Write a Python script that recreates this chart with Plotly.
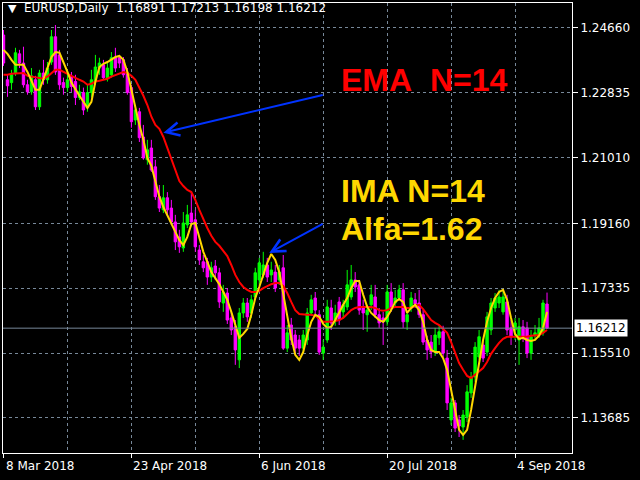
import plotly.graph_objects as go

# daily EURUSD bars, 8 Mar 2018 .. 14 Sep 2018 (bar index = trading day)
opens = [1.2446, 1.2320, 1.2312, 1.2339, 1.2393, 1.2367, 1.2306, 1.2286, 1.2320, 1.2244,
         1.2339, 1.2320, 1.2370, 1.2441, 1.2390, 1.2312, 1.2298, 1.2329, 1.2315, 1.2270,
         1.2284, 1.2241, 1.2284, 1.2315, 1.2353, 1.2362, 1.2326, 1.2334, 1.2382, 1.2382,
         1.2376, 1.2339, 1.2298, 1.2207, 1.2230, 1.2159, 1.2095, 1.2128, 1.2075, 1.1991,
         1.1954, 1.1988, 1.1959, 1.1920, 1.1878, 1.1847, 1.1912, 1.1945, 1.1926, 1.1841,
         1.1808, 1.1808, 1.1765, 1.1796, 1.1777, 1.1692, 1.1720, 1.1650, 1.1625, 1.1532,
         1.1664, 1.1692, 1.1664, 1.1709, 1.1757, 1.1771, 1.1799, 1.1771, 1.1779, 1.1757,
         1.1791, 1.1565, 1.1630, 1.1602, 1.1588, 1.1565, 1.1588, 1.1664, 1.1706, 1.1659,
         1.1551, 1.1588, 1.1678, 1.1644, 1.1695, 1.1667, 1.1681, 1.1709, 1.1757, 1.1743,
         1.1678, 1.1659, 1.1687, 1.1709, 1.1659, 1.1650, 1.1639, 1.1723, 1.1692, 1.1706,
         1.1729, 1.1639, 1.1678, 1.1701, 1.1692, 1.1659, 1.1588, 1.1582, 1.1554, 1.1594,
         1.1611, 1.1537, 1.1363, 1.1411, 1.1363, 1.1343, 1.1372, 1.1439, 1.1484, 1.1540,
         1.1574, 1.1554, 1.1616, 1.1678, 1.1692, 1.1667, 1.1695, 1.1622, 1.1616, 1.1588,
         1.1625, 1.1622, 1.1551, 1.1600, 1.1602, 1.1608, 1.16891]
highs = [1.2460, 1.2334, 1.2348, 1.2410, 1.2404, 1.2413, 1.2320, 1.2353, 1.2331, 1.2348,
         1.2376, 1.2370, 1.2460, 1.2474, 1.2404, 1.2326, 1.2348, 1.2342, 1.2334, 1.2306,
         1.2298, 1.2306, 1.2348, 1.2390, 1.2382, 1.2376, 1.2370, 1.2398, 1.2410, 1.2390,
         1.2384, 1.2353, 1.2306, 1.2249, 1.2241, 1.2193, 1.2151, 1.2151, 1.2095, 1.2024,
         1.2024, 1.2004, 1.1982, 1.1940, 1.1898, 1.1948, 1.1968, 1.2004, 1.1954, 1.1855,
         1.1827, 1.1819, 1.1808, 1.1813, 1.1791, 1.1743, 1.1734, 1.1667, 1.1644, 1.1678,
         1.1706, 1.1706, 1.1715, 1.1791, 1.1819, 1.1836, 1.1819, 1.1808, 1.1799, 1.1799,
         1.1827, 1.1630, 1.1650, 1.1616, 1.1602, 1.1616, 1.1678, 1.1715, 1.1723, 1.1672,
         1.1588, 1.1701, 1.1701, 1.1687, 1.1709, 1.1701, 1.1785, 1.1799, 1.1779, 1.1757,
         1.1701, 1.1687, 1.1743, 1.1743, 1.1678, 1.1667, 1.1743, 1.1748, 1.1729, 1.1743,
         1.1748, 1.1667, 1.1723, 1.1720, 1.1729, 1.1672, 1.1600, 1.1602, 1.1622, 1.1630,
         1.1628, 1.1560, 1.1425, 1.1419, 1.1377, 1.1391, 1.1461, 1.1498, 1.1582, 1.1616,
         1.1588, 1.1667, 1.1706, 1.1720, 1.1729, 1.1729, 1.1715, 1.1644, 1.1650, 1.1650,
         1.1644, 1.1639, 1.1616, 1.1630, 1.1650, 1.1701, 1.17213]
lows = [1.2359, 1.2272, 1.2292, 1.2331, 1.2353, 1.2298, 1.2278, 1.2278, 1.2235, 1.2235,
        1.2306, 1.2309, 1.2362, 1.2334, 1.2292, 1.2278, 1.2286, 1.2286, 1.2249, 1.2263,
        1.2221, 1.2230, 1.2270, 1.2306, 1.2334, 1.2320, 1.2315, 1.2326, 1.2342, 1.2353,
        1.2326, 1.2278, 1.2185, 1.2193, 1.2145, 1.2095, 1.2081, 1.2061, 1.1982, 1.1948,
        1.1945, 1.1937, 1.1912, 1.1841, 1.1833, 1.1836, 1.1903, 1.1909, 1.1836, 1.1799,
        1.1779, 1.1743, 1.1751, 1.1757, 1.1678, 1.1667, 1.1633, 1.1602, 1.1518, 1.1509,
        1.1650, 1.1639, 1.1650, 1.1701, 1.1743, 1.1762, 1.1751, 1.1751, 1.1723, 1.1743,
        1.1560, 1.1554, 1.1574, 1.1546, 1.1543, 1.1554, 1.1574, 1.1656, 1.1659, 1.1546,
        1.1532, 1.1580, 1.1616, 1.1628, 1.1630, 1.1650, 1.1672, 1.1701, 1.1723, 1.1659,
        1.1616, 1.1611, 1.1672, 1.1650, 1.1622, 1.1574, 1.1628, 1.1667, 1.1678, 1.1701,
        1.1622, 1.1616, 1.1667, 1.1678, 1.1650, 1.1574, 1.1532, 1.1537, 1.1543, 1.1574,
        1.1540, 1.1391, 1.1349, 1.1329, 1.1315, 1.1307, 1.1357, 1.1425, 1.1470, 1.1532,
        1.1526, 1.1543, 1.1602, 1.1667, 1.1678, 1.1659, 1.1602, 1.1574, 1.1588, 1.1518,
        1.1582, 1.1537, 1.1532, 1.1588, 1.1594, 1.1600, 1.16198]
closes = [1.2367, 1.2303, 1.2334, 1.2396, 1.2367, 1.2306, 1.2286, 1.2331, 1.2244, 1.2339,
          1.2320, 1.2353, 1.2441, 1.2342, 1.2306, 1.2298, 1.2320, 1.2301, 1.2270, 1.2286,
          1.2235, 1.2284, 1.2320, 1.2356, 1.2367, 1.2326, 1.2353, 1.2382, 1.2353, 1.2367,
          1.2334, 1.2284, 1.2202, 1.2235, 1.2157, 1.2100, 1.2123, 1.2066, 1.1991, 1.1959,
          1.1988, 1.1954, 1.1920, 1.1864, 1.1850, 1.1917, 1.1940, 1.1920, 1.1850, 1.1813,
          1.1791, 1.1765, 1.1791, 1.1777, 1.1695, 1.1723, 1.1644, 1.1616, 1.1560, 1.1664,
          1.1692, 1.1653, 1.1701, 1.1777, 1.1805, 1.1799, 1.1765, 1.1785, 1.1734, 1.1779,
          1.1565, 1.1608, 1.1588, 1.1565, 1.1565, 1.1602, 1.1664, 1.1701, 1.1672, 1.1554,
          1.1568, 1.1681, 1.1636, 1.1664, 1.1644, 1.1687, 1.1743, 1.1757, 1.1737, 1.1672,
          1.1664, 1.1672, 1.1715, 1.1659, 1.1636, 1.1639, 1.1723, 1.1678, 1.1706, 1.1729,
          1.1639, 1.1659, 1.1706, 1.1689, 1.1659, 1.1582, 1.1560, 1.1554, 1.1602, 1.1611,
          1.1551, 1.1411, 1.1411, 1.1340, 1.1346, 1.1377, 1.1442, 1.1484, 1.1568, 1.1597,
          1.1537, 1.1653, 1.1692, 1.1706, 1.1709, 1.1709, 1.1616, 1.1597, 1.1636, 1.1625,
          1.1597, 1.1551, 1.1597, 1.1608, 1.1622, 1.1692, 1.16212]

ima = [1.2404, 1.2393, 1.2376, 1.2362, 1.2362, 1.2362, 1.2342, 1.2315, 1.2292, 1.2292,
       1.2320, 1.2353, 1.2384, 1.2398, 1.2396, 1.2370, 1.2342, 1.2312, 1.2292, 1.2275,
       1.2258, 1.2241, 1.2258, 1.2315, 1.2356, 1.2365, 1.2370, 1.2376, 1.2384, 1.2387,
       1.2376, 1.2342, 1.2292, 1.2235, 1.2193, 1.2151, 1.2100, 1.2078, 1.2038, 1.1991,
       1.1962, 1.1937, 1.1914, 1.1892, 1.1869, 1.1855, 1.1878, 1.1914, 1.1917, 1.1875,
       1.1836, 1.1808, 1.1779, 1.1762, 1.1745, 1.1723, 1.1701, 1.1667, 1.1630, 1.1594,
       1.1605, 1.1619, 1.1659, 1.1706, 1.1737, 1.1771, 1.1805, 1.1830, 1.1813, 1.1779,
       1.1720, 1.1650, 1.1594, 1.1546, 1.1532, 1.1554, 1.1602, 1.1639, 1.1659, 1.1653,
       1.1633, 1.1622, 1.1625, 1.1644, 1.1667, 1.1687, 1.1706, 1.1734, 1.1754, 1.1754,
       1.1715, 1.1681, 1.1664, 1.1653, 1.1644, 1.1639, 1.1653, 1.1672, 1.1695, 1.1703,
       1.1695, 1.1664, 1.1678, 1.1687, 1.1672, 1.1639, 1.1588, 1.1560, 1.1554, 1.1554,
       1.1537, 1.1504, 1.1447, 1.1386, 1.1335, 1.1321, 1.1335, 1.1391, 1.1461, 1.1526,
       1.1588, 1.1639, 1.1678, 1.1706, 1.1723, 1.1729, 1.1701, 1.1650, 1.1605, 1.1591,
       1.1594, 1.1588, 1.1585, 1.1588, 1.1600, 1.1622, 1.1667]

ema = [1.2334, 1.2334, 1.2337, 1.2337, 1.2339, 1.2339, 1.2331, 1.2329, 1.2326, 1.2323,
       1.2323, 1.2329, 1.2339, 1.2348, 1.2348, 1.2342, 1.2337, 1.2331, 1.2326, 1.2320,
       1.2315, 1.2306, 1.2309, 1.2315, 1.2317, 1.2320, 1.2323, 1.2329, 1.2334, 1.2339,
       1.2342, 1.2339, 1.2331, 1.2320, 1.2298, 1.2275, 1.2249, 1.2216, 1.2193, 1.2182,
       1.2159, 1.2128, 1.2095, 1.2066, 1.2035, 1.2021, 1.2010, 1.2004, 1.1982, 1.1954,
       1.1926, 1.1903, 1.1881, 1.1864, 1.1853, 1.1838, 1.1824, 1.1799, 1.1771, 1.1751,
       1.1737, 1.1729, 1.1723, 1.1723, 1.1726, 1.1734, 1.1740, 1.1745, 1.1748, 1.1748,
       1.1740, 1.1720, 1.1695, 1.1672, 1.1661, 1.1659, 1.1659, 1.1659, 1.1656, 1.1648,
       1.1639, 1.1639, 1.1639, 1.1641, 1.1644, 1.1650, 1.1661, 1.1672, 1.1678, 1.1681,
       1.1681, 1.1681, 1.1681, 1.1678, 1.1672, 1.1670, 1.1672, 1.1678, 1.1681, 1.1681,
       1.1681, 1.1678, 1.1678, 1.1684, 1.1687, 1.1675, 1.1659, 1.1644, 1.1636, 1.1630,
       1.1619, 1.1608, 1.1582, 1.1551, 1.1523, 1.1504, 1.1487, 1.1481, 1.1490, 1.1501,
       1.1509, 1.1526, 1.1549, 1.1565, 1.1580, 1.1591, 1.1597, 1.1597, 1.1597, 1.1597,
       1.1597, 1.1597, 1.1600, 1.1600, 1.1602, 1.1608, 1.1616]

date_ticks = [0, 32, 64, 96, 128]
date_labels = ["8 Mar 2018", "23 Apr 2018", "6 Jun 2018", "20 Jul 2018", "4 Sep 2018"]
grid_minor = [16, 48, 80, 112]
price_ticks = [1.24660, 1.22835, 1.21010, 1.19160, 1.17335, 1.15510, 1.13685]

bars = list(range(len(closes)))
grid_col = "#778899"
font = "DejaVu Sans"

fig = go.Figure()

fig.add_trace(go.Candlestick(x=bars, open=opens, high=highs, low=lows, close=closes,
                             increasing=dict(line=dict(color="#00ff00", width=1), fillcolor="#00ff00"),
                             decreasing=dict(line=dict(color="#ff00ff", width=1), fillcolor="#ff00ff"),
                             whiskerwidth=0, showlegend=False))
fig.add_trace(go.Scatter(x=bars, y=ema, mode="lines", line=dict(color="#ff0000", width=2), showlegend=False))
fig.add_trace(go.Scatter(x=bars, y=ima, mode="lines", line=dict(color="#ffd700", width=2), showlegend=False))

# bid line
fig.add_hline(y=closes[-1], line=dict(color=grid_col, width=1))

# header
header = "EURUSD,Daily\u00a0\u00a0%.5f %.5f %.5f %.5f" % (opens[-1], highs[-1], lows[-1], closes[-1])
fig.add_annotation(text="\u25bc", x=0.006, y=0.988, xref="paper", yref="paper", xanchor="left",
                   yanchor="middle", showarrow=False, font=dict(family=font, size=11, color="white"))
fig.add_annotation(text=header, x=0.034, y=0.988, xref="paper", yref="paper", xanchor="left",
                   yanchor="middle", showarrow=False, font=dict(family=font, size=12, color="white"))

# labels and arrows
big = "Liberation Sans"
fig.add_annotation(text="<b>EMA\u00a0\u00a0N=14</b>", x=84, y=1.2320, xanchor="left", yanchor="middle",
                   showarrow=False, font=dict(family=big, size=32, color="#ff0000"))
fig.add_annotation(text="<b>IMA N=14</b>", x=84, y=1.2006, xanchor="left", yanchor="middle",
                   showarrow=False, font=dict(family=big, size=32, color="#ffd700"))
fig.add_annotation(text="<b>Alfa=1.62</b>", x=84, y=1.1899, xanchor="left", yanchor="middle",
                   showarrow=False, font=dict(family=big, size=32, color="#ffd700"))
fig.add_annotation(x=40, y=1.2171, ax=80.25, ay=1.2278, xref="x", yref="y", axref="x", ayref="y",
                   text="", showarrow=True, arrowhead=5, arrowsize=1.3, arrowwidth=2, arrowcolor="#0033ff")
fig.add_annotation(x=66.5, y=1.1833, ax=80.25, ay=1.1917, xref="x", yref="y", axref="x", ayref="y",
                   text="", showarrow=True, arrowhead=5, arrowsize=1.3, arrowwidth=2, arrowcolor="#0033ff")

# price box at right
fig.add_annotation(text="%.5f" % closes[-1], x=1, y=closes[-1], xref="paper", yref="y", xanchor="left",
                   yanchor="middle", xshift=2, showarrow=False, bgcolor="white", borderpad=1,
                   font=dict(family=font, size=12, color="black"))

# date labels, left aligned on their ticks like MT4
for t, lab in zip(date_ticks, date_labels):
    fig.add_annotation(text=lab, x=t, y=0, xref="x", yref="paper", xanchor="left", yanchor="top",
                       yshift=-4, showarrow=False, font=dict(family=font, size=12, color="white"))

fig.update_xaxes(range=[-0.125, 142.25], tickvals=date_ticks, showticklabels=False,
                 ticks="outside", ticklen=4, tickcolor="white",
                 showgrid=True, gridcolor=grid_col, griddash="3px,3px", gridwidth=1,
                 minor=dict(tickvals=grid_minor, showgrid=True, gridcolor=grid_col, griddash="3px,3px"),
                 showline=True, linecolor="white", linewidth=1, mirror=True,
                 zeroline=False, rangeslider=dict(visible=False))
fig.update_yaxes(range=[1.1270, 1.2536], side="right", tickvals=price_ticks,
                 ticktext=["%.5f" % p for p in price_ticks], ticks="outside", ticklen=5,
                 tickcolor="white", tickfont=dict(family=font, size=12, color="white"),
                 showgrid=True, gridcolor=grid_col, griddash="3px,3px", gridwidth=1,
                 showline=True, linecolor="white", linewidth=1, mirror=True, zeroline=False)

fig.update_layout(width=640, height=480, paper_bgcolor="black", plot_bgcolor="black",
                  margin=dict(l=3, r=68, t=3, b=27), showlegend=False, hovermode=False,
                  boxgap=0.15)

# page body has an 8px default margin; drop it so the figure sits at 0,0
fig.write_html("out.html", config={"displayModeBar": False},
               post_script="document.body.style.margin='0px';"
               "document.body.style.background='black';")
